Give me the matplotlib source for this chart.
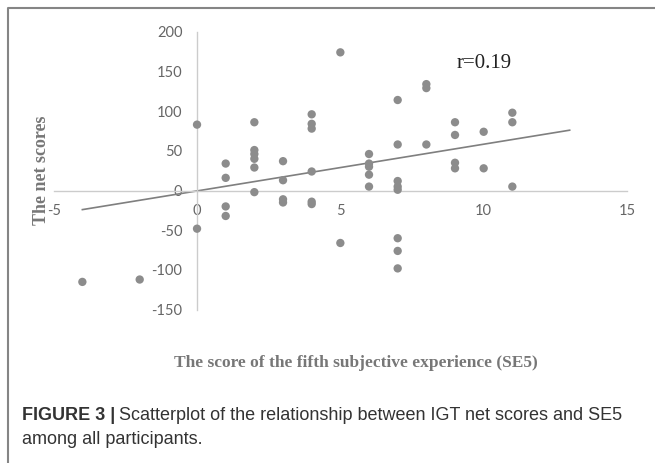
import matplotlib
matplotlib.use("Agg")
import matplotlib.pyplot as plt
from matplotlib.lines import Line2D

# SE5 score vs IGT net score
se5 = [-4, -2,
       0, 0,
       1, 1, 1, 1,
       2, 2, 2, 2, 2, 2,
       3, 3, 3, 3,
       4, 4, 4, 4, 4, 4,
       5, 5,
       6, 6, 6, 6, 6,
       7, 7, 7, 7, 7, 7, 7, 7,
       8, 8, 8,
       9, 9, 9, 9,
       10, 10,
       11, 11, 11]
net = [-115, -112,
       83, -48,
       34, 16, -20, -32,
       86, 51, 46, 40, 29, -2,
       37, 13, -11, -15,
       96, 84, 78, 24, -14, -17,
       174, -66,
       46, 34, 30, 20, 5,
       114, 58, 12, 5, 1, -60, -76, -98,
       134, 129, 58,
       86, 70, 35, 28,
       74, 28,
       98, 86, 5]

# linear trend line endpoints
trend_x = [-4, 13]
trend_y = [-24, 76]

x_ticks = [-5, 0, 5, 10, 15]
y_ticks = [-150, -100, -50, 0, 50, 100, 150, 200]

W, H = 655, 463
fig = plt.figure(figsize=(W / 100, H / 100), dpi=100)

ax = fig.add_axes([53.7 / W, 153.3 / H, (627 - 53.7) / W, (431.3 - 153.3) / H])
ax.set_xlim(-5, 15)
ax.set_ylim(-150, 200)
ax.patch.set_alpha(0)

ax.spines["top"].set_visible(False)
ax.spines["right"].set_visible(False)
ax.spines["left"].set_position(("data", 0))
ax.spines["bottom"].set_position(("data", 0))
for s in ["left", "bottom"]:
    ax.spines[s].set_color("#cccccc")
    ax.spines[s].set_linewidth(1.0)

ax.set_xticks(x_ticks)
ax.set_yticks(y_ticks)
ax.set_xticklabels([str(v) for v in x_ticks])
ax.set_yticklabels([str(v) for v in y_ticks])
ax.tick_params(axis="x", length=0, pad=10, labelsize=10.5, labelcolor="#666666")
ax.tick_params(axis="y", length=0, pad=10.5, labelsize=10.5, labelcolor="#666666")
for lab in ax.get_xticklabels() + ax.get_yticklabels():
    lab.set_family("Lato")

ax.scatter(se5, net, s=36, color="#8c8c8c", edgecolors="none", zorder=3)
ax.plot(trend_x, trend_y, color="#7f7f7f", linewidth=1.2, zorder=2)

ax.text(10, 160, "r=0.19", ha="center", va="center", fontsize=15,
        family="Liberation Serif", color="#222222")

# axis titles
fig.text(41 / W, 1 - 170 / H, "The net scores", rotation=90, ha="center", va="center",
         fontsize=13, fontweight="bold", family="Liberation Serif", color="#777777")
fig.text(355.5 / W, 1 - 363 / H, "The score of the fifth subjective experience (SE5)",
         ha="center", va="center", fontsize=12.5, fontweight="bold",
         family="Liberation Serif", color="#777777")

# frame around the figure panel
fig.add_artist(Line2D([7.5 / W, 7.5 / W, 1.0], [0.0, 1 - 7.5 / H, 1 - 7.5 / H],
                      transform=fig.transFigure, color="#858585", linewidth=1.5))

# caption
cap_size = 13
bold = fig.text(22 / W, 1 - 416 / H, "FIGURE 3 |", ha="left", va="center",
                fontsize=cap_size, fontweight="bold", family="Liberation Sans", color="#333333")
fig.canvas.draw()
bb = bold.get_window_extent()
fig.text((bb.x1 + 4) / W, 1 - 416 / H,
         "Scatterplot of the relationship between IGT net scores and SE5",
         ha="left", va="center", fontsize=cap_size, family="Liberation Sans", color="#333333")
fig.text(22 / W, 1 - 439 / H, "among all participants.", ha="left", va="center",
         fontsize=cap_size, family="Liberation Sans", color="#333333")

fig.savefig("out.png", dpi=100)
